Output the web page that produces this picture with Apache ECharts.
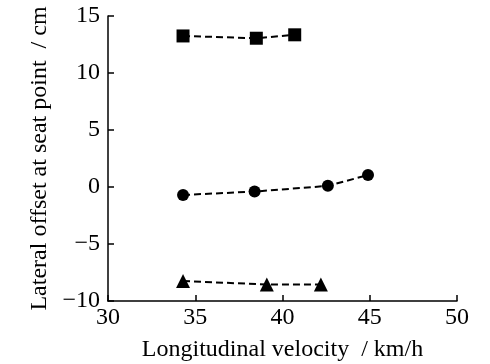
<!DOCTYPE html>
<html>
<head>
<meta charset="utf-8">
<script src="https://cdn.jsdelivr.net/npm/echarts@6/dist/echarts.min.js"></script>
<style>
  html, body { margin: 0; padding: 0; background: #fff; }
  #chart { width: 490px; height: 364px; }
</style>
</head>
<body>
<div id="chart"></div>
<script>
// data
const squareX = [34.3, 38.5, 40.7]
const squareY = [13.25, 13.05, 13.35]
const circleX = [34.3, 38.4, 42.6, 44.9]
const circleY = [-0.7, -0.4, 0.1, 1.05]
const triangleX = [34.3, 39.1, 42.2]
const triangleY = [-8.25, -8.55, -8.55]
const xTicks = [30, 35, 40, 45, 50]
const yTicks = [-10, -5, 0, 5, 10, 15]

const pairs = (xs, ys) => xs.map((x, i) => [x, ys[i]])
const font = '"Liberation Serif", "Times New Roman", serif'

const chart = echarts.init(document.getElementById('chart'))

const lineSeries = (data, symbol, size) => ({
  type: 'line',
  data: data,
  symbol: symbol,
  symbolSize: size,
  itemStyle: { color: '#000' },
  lineStyle: { color: '#000', width: 2, type: [7, 4] },
  animation: false
})

chart.setOption({
  grid: { left: 108, right: 33, top: 16, bottom: 63, outerBoundsMode: 'none' },
  xAxis: {
    type: 'value',
    min: xTicks[0],
    max: xTicks[xTicks.length - 1],
    interval: 5,
    name: 'Longitudinal velocity  / km/h',
    nameLocation: 'middle',
    nameGap: 37,
    nameTextStyle: { fontFamily: font, fontSize: 24, color: '#000' },
    axisLine: { onZero: false, lineStyle: { color: '#000', width: 1.5 } },
    axisTick: { inside: true, length: 6, lineStyle: { color: '#000', width: 1.5 } },
    axisLabel: { fontFamily: font, fontSize: 24, color: '#000', margin: 5 },
    splitLine: { show: false }
  },
  yAxis: {
    type: 'value',
    min: yTicks[0],
    max: yTicks[yTicks.length - 1],
    interval: 5,
    name: 'Lateral offset at seat point  / cm',
    nameLocation: 'middle',
    nameGap: 56,
    nameTextStyle: { fontFamily: font, fontSize: 24, color: '#000' },
    axisLine: { show: true, onZero: false, lineStyle: { color: '#000', width: 1.5 } },
    axisTick: { show: true, inside: true, length: 6, lineStyle: { color: '#000', width: 1.5 } },
    axisLabel: {
      fontFamily: font, fontSize: 24, color: '#000', margin: 8,
      formatter: v => String(v).replace('-', '\u2212')
    },
    splitLine: { show: false }
  },
  series: [
    lineSeries(pairs(squareX, squareY), 'rect', 13),
    lineSeries(pairs(circleX, circleY), 'circle', 12),
    lineSeries(pairs(triangleX, triangleY), 'triangle', 14)
  ]
})

window.addEventListener('resize', () => chart.resize())
</script>
</body>
</html>
